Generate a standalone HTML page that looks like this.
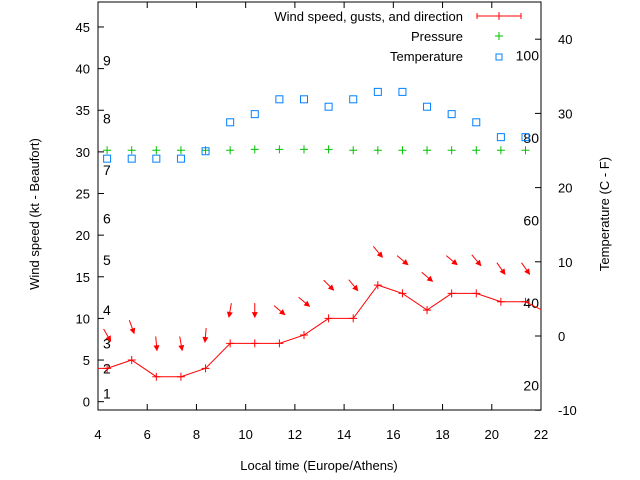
<!DOCTYPE html>
<html><head><meta charset="utf-8"><style>
body{margin:0;background:#fff}
svg{display:block;font-family:"Liberation Sans",sans-serif}
</style></head><body>
<svg id="chart" width="640" height="480" viewBox="0 0 640 480">
<g id="axes"></g><g id="marks"></g>
</svg>
<script>
const hours=[4.37,5.37,6.37,7.37,8.37,9.37,10.37,11.37,12.37,13.37,14.37,15.37,16.37,17.37,18.37,19.37,20.37,21.37,22.37];
const windSpeed=[4,5,3,3,4,7,7,7,8,10,10,14,13,11,13,13,12,12,10.5];
const windDir=[330,340,355,350,5,10,0,310,310,315,320,320,310,310,310,320,325,325];
const pressure=[30.2,30.2,30.2,30.2,30.2,30.2,30.3,30.3,30.3,30.3,30.2,30.2,30.2,30.2,30.2,30.2,30.2,30.2];
const temperature=[23.9,23.9,23.9,23.9,24.9,28.8,29.9,31.9,31.9,30.9,31.9,32.9,32.9,30.9,29.9,28.8,26.8,26.8];
const xTicks=[4,6,8,10,12,14,16,18,20,22];
const yTicks=[0,5,10,15,20,25,30,35,40,45];
const y2Ticks=[-10,0,10,20,30,40];
const beaufort=[[1,1],[2,4],[3,7],[4,11],[5,17],[6,22],[7,27.8],[8,34],[9,41]];
const fahrenheit=[20,40,60,80,100];

const L=98,R=541,T=2,B=410;
const xs=h=>L+(h-4)*(R-L)/18;
const ys=v=>B-(v+1)*(B-T)/49;
const y2=c=>336-c*7.42;
const NS='http://www.w3.org/2000/svg';
function mk(tag,attrs,parent,text){const e=document.createElementNS(NS,tag);for(const k in attrs)e.setAttribute(k,attrs[k]);if(text!==undefined)e.textContent=text;parent.appendChild(e);return e;}
const ax=document.getElementById('axes'),mg=document.getElementById('marks');
const frame=mk('rect',{x:L,y:T,width:R-L,height:B-T,fill:'none',stroke:'#000','stroke-width':1},ax);


xTicks.forEach(t=>{const x=xs(t);
mk('line',{x1:x,x2:x,y1:B,y2:B-6,stroke:'#000'},ax);mk('line',{x1:x,x2:x,y1:T,y2:T+6,stroke:'#000'},ax);
const tx=mk('text',{x:x,y:B+29,'font-size':13,'text-anchor':'middle'},ax,String(t));

});
yTicks.forEach(t=>{const y=ys(t);
mk('line',{x1:L,x2:L+6,y1:y,y2:y,stroke:'#000'},ax);
const tx=mk('text',{x:L-8,y:y+5,'font-size':13,'text-anchor':'end'},ax,String(t));

});
y2Ticks.forEach(t=>{const y=y2(t);
mk('line',{x1:R,x2:R-6,y1:y,y2:y,stroke:'#000'},ax);
const tx=mk('text',{x:R+17,y:y+5,'font-size':13},ax,String(t));

});
beaufort.forEach(b=>{const tx=mk('text',{x:103,y:ys(b[1])+5,'font-size':14},ax,String(b[0]));

});
fahrenheit.forEach(f=>{const c=(f-32)*5/9;const tx=mk('text',{x:539,y:y2(c)+5,'font-size':14,'text-anchor':'end'},ax,String(f));

});
let t1=mk('text',{x:319,y:470,'font-size':13,'text-anchor':'middle'},ax,'Local time (Europe/Athens)');


let t2=mk('text',{x:0,y:0,'font-size':13,'text-anchor':'middle',transform:'translate(39,214) rotate(-90)'},ax,'Wind speed (kt - Beaufort)');


let t3=mk('text',{x:0,y:0,'font-size':13,'text-anchor':'middle',transform:'translate(609,214) rotate(-90)'},ax,'Temperature (C - F)');



const defs=mk('defs',{},mg);const cp=mk('clipPath',{id:'clip'},defs);mk('rect',{x:L,y:T,width:R-L,height:B-T},cp);
const g=mk('g',{'clip-path':'url(#clip)'},mg);
const pts=hours.map((h,i)=>xs(h)+','+ys(windSpeed[i])).join(' ');
const wl=mk('polyline',{points:xs(3.37)+','+ys(4)+' '+pts,fill:'none',stroke:'#f00','stroke-width':1},g);


hours.forEach((h,i)=>{const x=xs(h),y=ys(windSpeed[i]);
const p=mk('path',{d:`M${x-4},${y}h8M${x},${y-4}v8`,stroke:'#f00','stroke-width':1},g);

});
windDir.forEach((d,i)=>{const cx=xs(hours[i]),cy=ys(windSpeed[i]+4);const a=d*Math.PI/180;
const dx=-Math.sin(a),dy=Math.cos(a);const len=7;
const x1=cx-dx*len,y1=cy-dy*len,x2=cx+dx*len,y2_=cy+dy*len;
const px=-dy,py=dx;
const ar=mk('g',{},g);


mk('line',{x1:x1,y1:y1,x2:x2,y2:y2_,stroke:'#f00','stroke-width':1},ar);
mk('polygon',{points:`${x2+dx*1},${y2_+dy*1} ${x2-dx*5+px*3},${y2_-dy*5+py*3} ${x2-dx*5-px*3},${y2_-dy*5-py*3}`,fill:'#f00'},ar);});
pressure.forEach((p,i)=>{const x=xs(hours[i]),y=ys(p);
const e=mk('path',{d:`M${x-4},${y}h8M${x},${y-4}v8`,stroke:'#00c000','stroke-width':1},g);

});
temperature.forEach((t,i)=>{const x=xs(hours[i]),y=y2(t);
const e=mk('rect',{x:x-3.5,y:y-3.5,width:7,height:7,fill:'none',stroke:'#0080ff','stroke-width':1},g);

});
const lg=mk('g',{},mg);


[['Wind speed, gusts, and direction',21],['Pressure',41],['Temperature',61]].forEach(r=>{
const e=mk('text',{x:463,y:r[1],'font-size':13,'text-anchor':'end'},lg,r[0]);

});
mk('path',{d:'M477,16h44M477,13v6M521,13v6M499,12v8',stroke:'#f00'},lg);
mk('path',{d:'M495,36h8M499,32v8',stroke:'#00c000'},lg);
mk('rect',{x:496,y:54,width:6,height:6,fill:'none',stroke:'#0080ff'},lg);
</script>
</body></html>
